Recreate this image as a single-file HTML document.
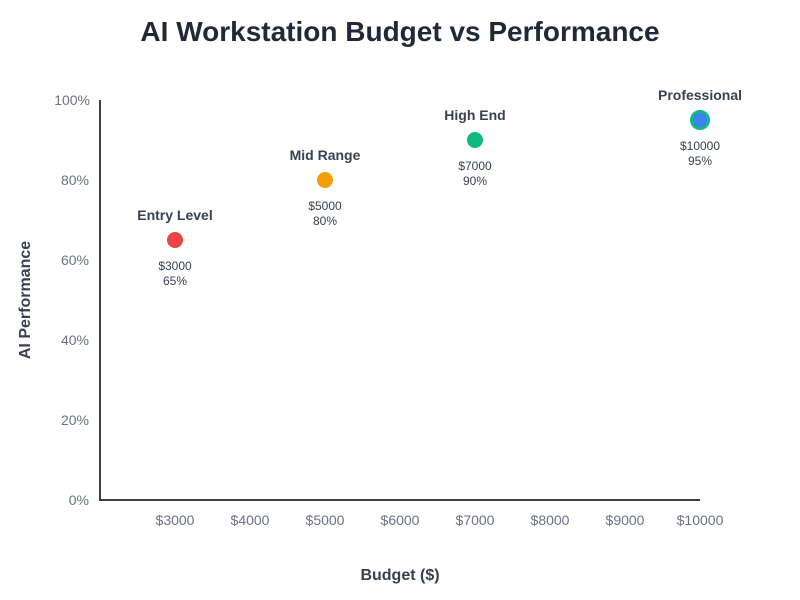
<!DOCTYPE html>
<html>
<head>
<meta charset="utf-8">
<style>
html,body{margin:0;padding:0;background:#fff;}
svg{display:block;font-family:"Liberation Sans",Arial,sans-serif;}
</style>
</head>
<body>
<svg width="800" height="600" viewBox="0 0 800 600" xmlns="http://www.w3.org/2000/svg">
<rect width="800" height="600" fill="#fff"/>
<text x="400" y="41" text-anchor="middle" font-size="28" font-weight="bold" fill="#1f2937">AI Workstation Budget vs Performance</text>

<!-- axes -->
<line x1="100" y1="100" x2="100" y2="501" stroke="#374151" stroke-width="2"/>
<line x1="99" y1="500" x2="700" y2="500" stroke="#374151" stroke-width="2"/>

<!-- y ticks -->
<g font-size="14" fill="#6b7280" text-anchor="end">
<text x="90" y="105">100%</text>
<text x="89" y="185">80%</text>
<text x="89" y="265">60%</text>
<text x="89" y="345">40%</text>
<text x="89" y="425">20%</text>
<text x="89" y="505">0%</text>
</g>

<!-- x ticks -->
<g font-size="14" fill="#6b7280" text-anchor="middle">
<text x="175" y="525">$3000</text>
<text x="250" y="525">$4000</text>
<text x="325" y="525">$5000</text>
<text x="400" y="525">$6000</text>
<text x="475" y="525">$7000</text>
<text x="550" y="525">$8000</text>
<text x="625" y="525">$9000</text>
<text x="700" y="525">$10000</text>
</g>

<!-- axis labels -->
<text x="400" y="580" text-anchor="middle" font-size="16" font-weight="bold" fill="#374151">Budget ($)</text>
<text transform="translate(30,300) rotate(-90)" text-anchor="middle" font-size="16" font-weight="bold" fill="#374151">AI Performance</text>

<!-- points -->
<g text-anchor="middle">
<circle cx="175" cy="240" r="8" fill="#ef4444"/>
<text x="175" y="220" font-size="14" font-weight="bold" fill="#374151">Entry Level</text>
<text x="175" y="270" font-size="12" fill="#374151">$3000</text>
<text x="175" y="285" font-size="12" fill="#374151">65%</text>

<circle cx="325" cy="180" r="8" fill="#f59e0b"/>
<text x="325" y="160" font-size="14" font-weight="bold" fill="#374151">Mid Range</text>
<text x="325" y="210" font-size="12" fill="#374151">$5000</text>
<text x="325" y="225" font-size="12" fill="#374151">80%</text>

<circle cx="475" cy="140" r="8" fill="#10b981"/>
<text x="475" y="120" font-size="14" font-weight="bold" fill="#374151">High End</text>
<text x="475" y="170" font-size="12" fill="#374151">$7000</text>
<text x="475" y="185" font-size="12" fill="#374151">90%</text>

<circle cx="700" cy="120" r="8.5" fill="#3b82f6" stroke="#10b981" stroke-width="3"/>
<text x="700" y="100" font-size="14" font-weight="bold" fill="#374151">Professional</text>
<text x="700" y="150" font-size="12" fill="#374151">$10000</text>
<text x="700" y="165" font-size="12" fill="#374151">95%</text>
</g>
</svg>
</body>
</html>
